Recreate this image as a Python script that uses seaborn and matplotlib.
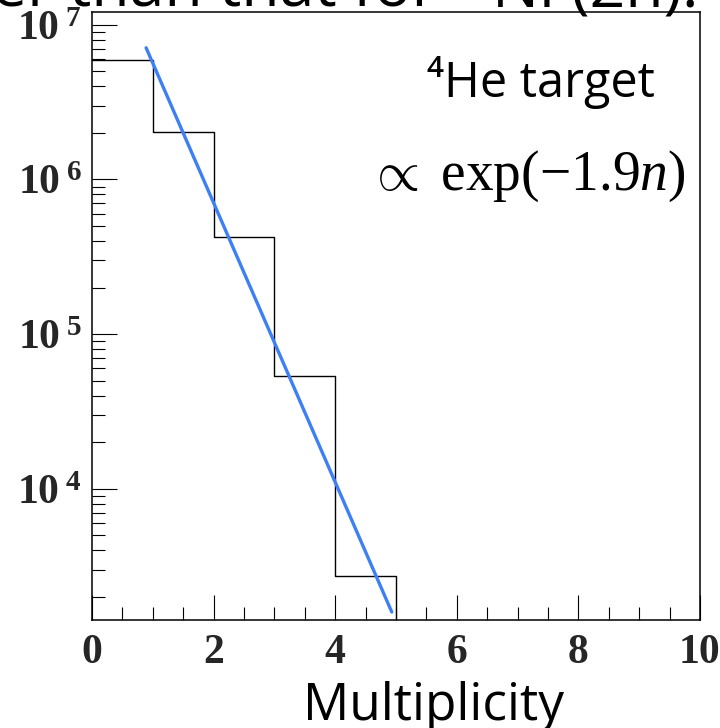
import numpy as np
import pandas as pd
import matplotlib
matplotlib.use("Agg")
import matplotlib.pyplot as plt
import seaborn as sns
from matplotlib.ticker import FixedLocator, FuncFormatter, LogLocator, NullFormatter

# ---- data ----
bin_edges = [0, 1, 2, 3, 4, 5, 6]
bin_centers = [0.5, 1.5, 2.5, 3.5, 4.5]
counts = [5.9e6, 2.02e6, 4.28e5, 5.35e4, 2.72e3]
fit_n = [0.89, 4.93]
fit_counts = [7.1e6, 1.6e3]
x_major = [0, 2, 4, 6, 8, 10]
y_major = [1e4, 1e5, 1e6, 1e7]

sns.set_theme(style="ticks")
plt.rcParams["font.family"] = ["Liberation Serif", "DejaVu Sans"]
plt.rcParams["mathtext.fontset"] = "custom"
plt.rcParams["mathtext.rm"] = "Liberation Serif"
plt.rcParams["mathtext.it"] = "Liberation Serif:italic"
plt.rcParams["mathtext.bf"] = "Liberation Serif:bold"

W, H = 720, 728
fig = plt.figure(figsize=(W / 100, H / 100), dpi=100)
fig.patch.set_facecolor("white")
ax = fig.add_axes([92 / W, 1 - 620 / H, 608 / W, 608 / H])

df = pd.DataFrame({"n": bin_centers, "count": counts})
sns.histplot(data=df, x="n", weights="count", bins=bin_edges, element="step",
             fill=False, color="black", linewidth=1.0, ax=ax)
sns.lineplot(x=fit_n, y=fit_counts, color="#3d80f5", linewidth=2.4, ax=ax)

ax.set_yscale("log")
ax.set_xlim(0, 10)
ax.set_ylim(1420, 1.21e7)
ax.set_xlabel("")
ax.set_ylabel("")

for s in ax.spines.values():
    s.set_color("black")
    s.set_linewidth(1.1)

ax.xaxis.set_major_locator(FixedLocator(x_major))
ax.xaxis.set_minor_locator(FixedLocator(np.arange(0, 10.01, 0.5)))
ax.yaxis.set_major_locator(FixedLocator(y_major))
ax.yaxis.set_minor_locator(LogLocator(base=10, subs=np.arange(2, 10)))
ax.yaxis.set_minor_formatter(NullFormatter())

ax.xaxis.set_major_formatter(FuncFormatter(lambda v, p: "%d" % round(v)))
ax.yaxis.set_major_formatter(
    FuncFormatter(lambda v, p: r"$\mathbf{10}^{\ \mathbf{%d}}$" % round(np.log10(v))))

ax.tick_params(axis="both", which="major", direction="in", length=18, width=0.8,
               color="black", top=False, right=False)
ax.tick_params(axis="both", which="minor", direction="in", length=9.4, width=0.8,
               color="black", top=False, right=False)
ax.tick_params(axis="x", which="major", labelsize=30, pad=10)
ax.tick_params(axis="y", which="major", labelsize=30, pad=7)
for lab in ax.get_xticklabels():
    lab.set_fontweight("bold")

def px(x, y):
    return x / W, 1 - y / H

sans = ["Open Sans", "DejaVu Sans"]
fig.text(*px(433, 720), "Multiplicity", ha="center", va="baseline",
         fontsize=37, family=sans, color="black")
fig.text(*px(541, 97), "\u2074He target", ha="center", va="baseline",
         fontsize=35, family=sans, color="black")
fig.text(*px(527, 190), r"$\propto\ \mathrm{exp}(-1.9n)$", ha="center", va="baseline",
         fontsize=40, color="black")
# cropped caption line above the figure (only its lower part is visible)
fig.text(*px(-8, 6), "er than that for", ha="left", va="baseline",
         fontsize=45, family=sans, color="black")
fig.text(*px(448, 6), "\u2075\u2078", ha="left", va="baseline",
         fontsize=45, family=sans, color="black")
fig.text(*px(492, 6), "Ni (2n).", ha="left", va="baseline",
         fontsize=45, family=sans, color="black")

fig.savefig("out.png", dpi=100, facecolor="white")
